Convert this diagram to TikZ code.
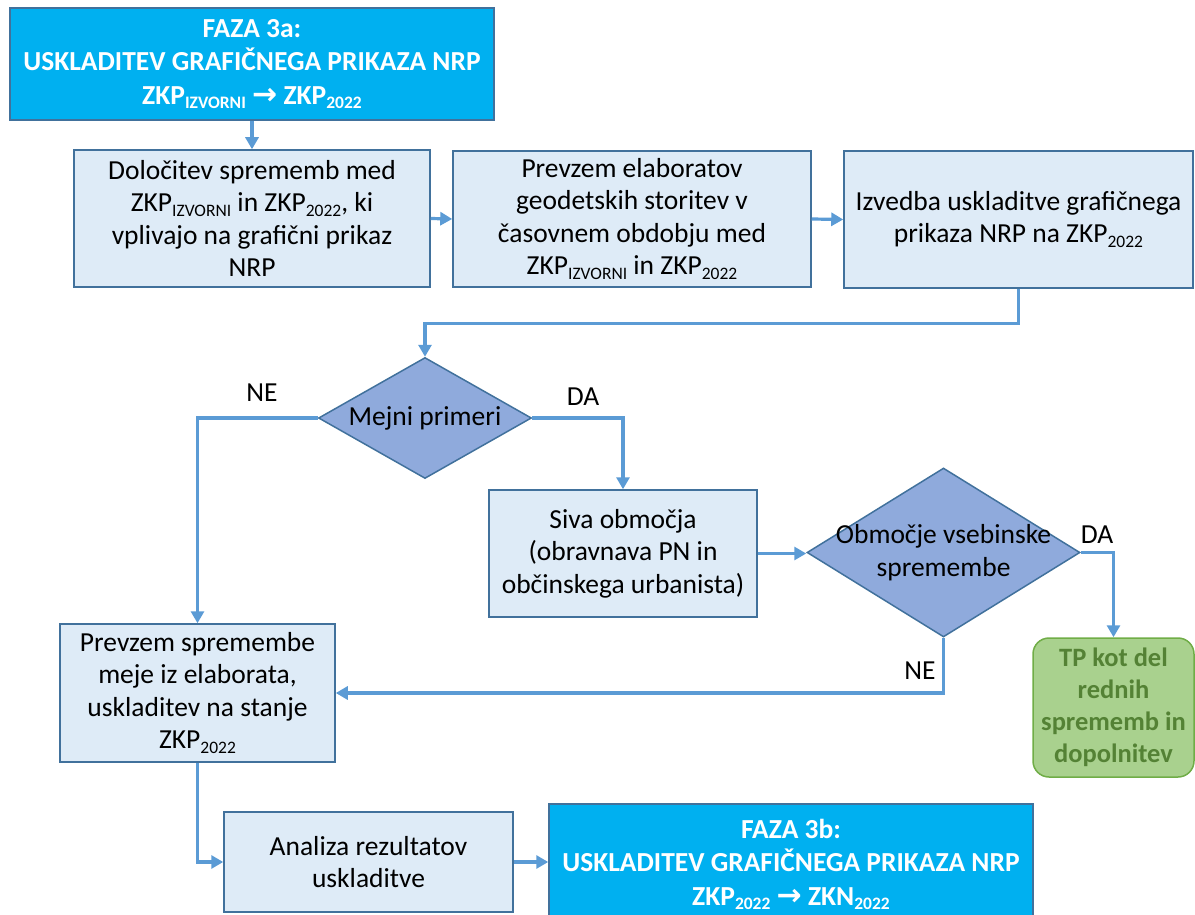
\documentclass[tikz,border=0pt]{standalone}
\usepackage{fontspec}
\setmainfont{Carlito}
\newfontfamily\symfont{DejaVu Sans}
\usetikzlibrary{shapes.geometric,arrows.meta}
\definecolor{titleblue}{HTML}{00B0F0}
\definecolor{edgeblue}{HTML}{41719C}
\definecolor{lightbox}{HTML}{DEEBF7}
\definecolor{diafill}{HTML}{8FAADC}
\definecolor{arrowblue}{HTML}{5B9BD5}
\definecolor{greenfill}{HTML}{A9D18E}
\definecolor{greenedge}{HTML}{70AD47}
\definecolor{greentext}{HTML}{548235}
\newcommand\lo[1]{\raisebox{-0.35ex}{\fontsize{17.5}{17.5}\selectfont #1}}
\newcommand\rarr{{\symfont\bfseries\fontsize{30}{30}\selectfont →}}
\begin{document}
\begin{tikzpicture}[x=1pt,y=-1pt,
  basefont/.style={font=\fontsize{27.5}{32.5}\selectfont},
  titlebox/.style={draw=edgeblue,line width=1.5pt,fill=titleblue,text=white,basefont,
    font=\fontsize{27.5}{33.5}\selectfont\bfseries,align=center,inner sep=0pt},
  stepbox/.style={draw=edgeblue,line width=1.5pt,fill=lightbox,basefont,align=center,inner sep=0pt},
  decbox/.style={diamond,draw=edgeblue,line width=1.5pt,fill=diafill,inner sep=0pt},
  dectext/.style={basefont,align=center,inner sep=0pt},
  endbox/.style={draw=greenedge,line width=1.5pt,fill=greenfill,rounded corners=16pt,
    text=greentext,font=\fontsize{26.5}{32}\selectfont\bfseries,align=center,inner sep=0pt},
  lbl/.style={basefont,inner sep=0pt},
  conn/.style={draw=arrowblue,line width=3.2pt},
  arr/.style={conn,-{Triangle[length=12pt,width=13pt]}}]
\useasboundingbox (0,0) rectangle (1195,915);
\clip (0,0) rectangle (1195,915);
\node[titlebox,minimum width=484,minimum height=112] (f3a) at (252,64)
  {FAZA 3a:\\USKLADITEV GRAFIČNEGA PRIKAZA NRP\\ZKP\lo{IZVORNI} \rarr{} ZKP\lo{2022}};
\node[stepbox,minimum width=356,minimum height=137] (b1) at (252,218.5)
  {Določitev sprememb med\\ZKP\lo{IZVORNI} in ZKP\lo{2022}, ki\\vplivajo na grafični prikaz\\NRP};
\node[stepbox,minimum width=358,minimum height=136] (b2) at (632,219)
  {Prevzem elaboratov\\geodetskih storitev v\\časovnem obdobju med\\ZKP\lo{IZVORNI} in ZKP\lo{2022}};
\node[stepbox,minimum width=349,minimum height=137] (b3) at (1018.5,219.5)
  {Izvedba uskladitve grafičnega\\prikaza NRP na ZKP\lo{2022}};
\node[decbox,minimum width=213,minimum height=121] (d1) at (425,418) {};
\node[dectext] (d1t) at (425,418) {Mejni primeri};
\node[stepbox,minimum width=268,minimum height=127] (siva) at (623,553.5)
  {Siva območja\\(obravnava PN in\\občinskega urbanista)};
\node[decbox,minimum width=273,minimum height=169] (d2) at (943.5,552.5) {};
\node[dectext] (d2t) at (943.5,552.5) {Območje vsebinske\\spremembe};
\node[endbox,minimum width=161,minimum height=139] (tp) at (1113.5,707.5)
  {TP kot del\\rednih\\sprememb in\\dopolnitev};
\node[stepbox,minimum width=275,minimum height=138] (b4) at (197.5,693)
  {Prevzem spremembe\\meje iz elaborata,\\uskladitev na stanje\\ZKP\lo{2022}};
\node[stepbox,minimum width=289,minimum height=100] (an) at (368.5,862)
  {Analiza rezultatov\\uskladitve};
\node[titlebox,minimum width=484,minimum height=121] (f3b) at (791,864.5)
  {FAZA 3b:\\USKLADITEV GRAFIČNEGA PRIKAZA NRP\\ZKP\lo{2022} \rarr{} ZKN\lo{2022}};
\node[lbl] (ne1) at (262,393) {NE};
\node[lbl] (da1) at (583,397) {DA};
\node[lbl] (da2) at (1097,535) {DA};
\node[lbl] (ne2) at (920,671) {NE};
\draw[arr] (f3a.south) -- (b1.north);
\draw[arr] (b1.east) -- (b2.west);
\draw[arr] (b2.east) -- (b3.west);
\draw[arr] (b3.south) -- ++(0,35) -| (d1.north);
\draw[arr] (d1.west) -| (b4.north);
\draw[arr] (d1.east) -| (siva.north);
\draw[arr] (siva.east) -- (siva.east -| d2.west);
\draw[arr] (d2.east) -| (tp.north);
\draw[arr] (d2.south) |- (b4.east);
\draw[arr] (b4.south) |- (an.west);
\draw[arr] (an.east) -- (an.east -| f3b.west);
\end{tikzpicture}
\end{document}
